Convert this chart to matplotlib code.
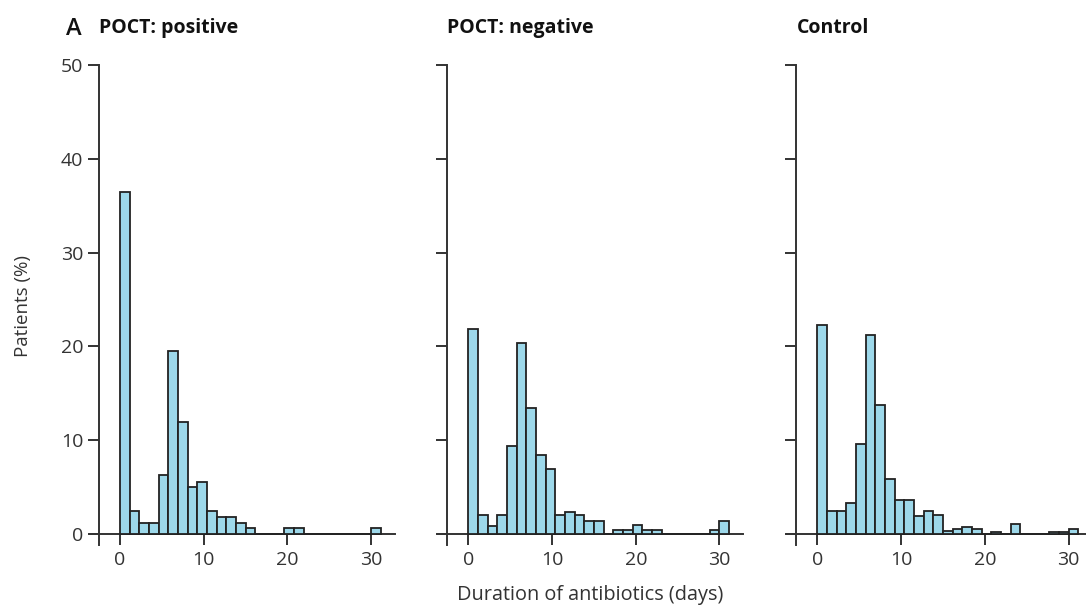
import numpy as np
import matplotlib
matplotlib.use("Agg")
import matplotlib.pyplot as plt

plt.rcParams["font.family"] = ["Open Sans", "DejaVu Sans"]

# bin width: 27 bins, the 27th starts at day 30
bin_width = 30 / 26
n_bins = 27

titles = ["POCT: positive", "POCT: negative", "Control"]

poct_positive = [36.5, 2.5, 1.2, 1.2, 6.3, 19.5, 11.9, 5.0, 5.6, 2.5, 1.8, 1.8, 1.2, 0.6,
                 0, 0, 0, 0.6, 0.6, 0, 0, 0, 0, 0, 0, 0, 0.6]
poct_negative = [21.9, 2.0, 0.9, 2.0, 9.4, 20.4, 13.4, 8.4, 6.9, 2.0, 2.4, 2.0, 1.4, 1.4,
                 0, 0.45, 0.45, 1.0, 0.45, 0.45, 0, 0, 0, 0, 0, 0.45, 1.4]
control = [22.3, 2.5, 2.5, 3.3, 9.6, 21.2, 13.8, 5.9, 3.6, 3.6, 1.9, 2.5, 2.0, 0.3,
           0.5, 0.8, 0.5, 0, 0.25, 0, 1.1, 0, 0, 0, 0.25, 0.25, 0.5]
series = [poct_positive, poct_negative, control]

yticks = [0, 10, 20, 30, 40, 50]
xticks = [0, 10, 20, 30]

bar_color = "#9dd8ea"
ink = "#333333"

fig = plt.figure(figsize=(10.86, 6.08), dpi=100)
lefts = [0.0828, 0.4035, 0.7249]

for k, (left, vals, title) in enumerate(zip(lefts, series, titles)):
    ax = fig.add_axes([left, 0.1031, 0.2806, 0.790])
    edges = np.arange(n_bins) * bin_width
    ax.bar(edges, vals, width=bin_width, align="edge", color=bar_color,
           edgecolor="#222222", linewidth=1.3, zorder=3)
    ax.set_xlim(-3.6, 32.8)
    ax.set_ylim(-1.2, 50)
    for s in ["top", "right"]:
        ax.spines[s].set_visible(False)
    ax.spines["bottom"].set_position(("data", 0))
    ax.spines["left"].set_position(("data", -2.5))
    ax.spines["left"].set_bounds(-1.2, 50)
    for s in ["bottom", "left"]:
        ax.spines[s].set_color(ink)
        ax.spines[s].set_linewidth(1.4)
    ax.set_xticks(xticks)
    ax.set_yticks(yticks)
    ax.tick_params(axis="both", direction="out", length=8, width=1.4,
                   color=ink, labelcolor=ink, labelsize=14)
    ax.tick_params(axis="x", pad=4)
    if k > 0:
        ax.set_yticklabels([])
    ax.text(-2.5, 1.077, title, transform=ax.get_xaxis_transform(),
            fontsize=14, fontweight="bold", color="#111111",
            ha="left", va="center")
    ax.patch.set_visible(False)

fig.text(0.061, 0.953, "A", fontsize=17, fontweight="semibold", color="#111111",
         ha="left", va="center")
fig.text(0.021, 0.497, "Patients (%)", rotation=90, fontsize=13.5, color=ink,
         ha="center", va="center")
fig.text(0.543, 0.021, "Duration of antibiotics (days)", fontsize=14.3, color=ink,
         ha="center", va="center")

fig.savefig("out.png", dpi=100)
